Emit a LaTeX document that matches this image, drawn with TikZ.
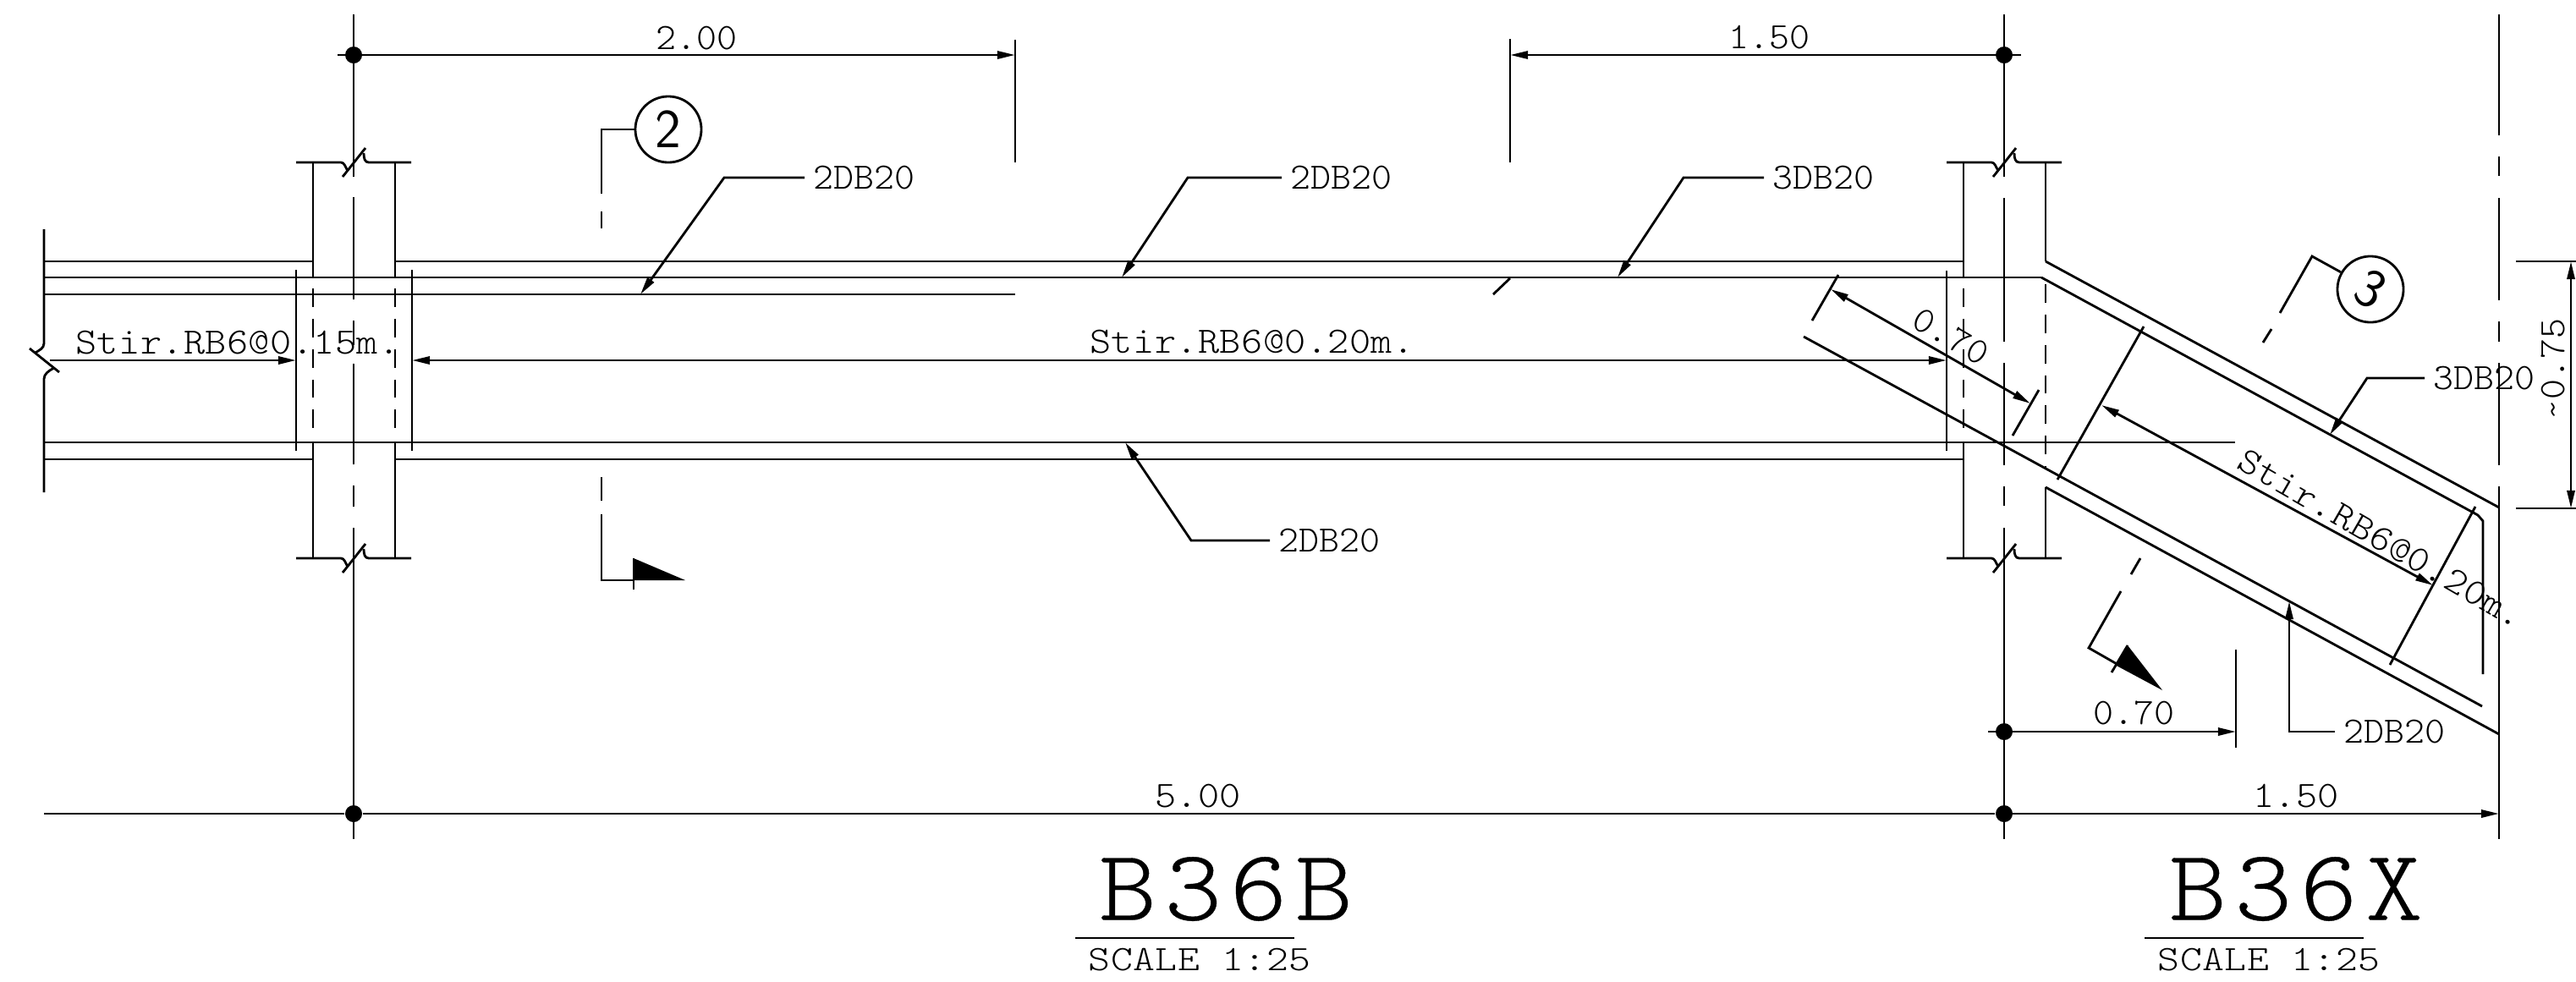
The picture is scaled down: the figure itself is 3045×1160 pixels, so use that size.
\documentclass[tikz,border=0pt]{standalone}
\usepackage{fontspec}
\usetikzlibrary{arrows.meta}
\newfontfamily\cadfont{lmmonolt10-regular}[Extension=.otf, FakeStretch=1.09, LetterSpace=1]
\newfontfamily\barfont{lmmonolt10-regular}[Extension=.otf, FakeStretch=1.04]
\newfontfamily\scalefont{lmmonolt10-regular}[Extension=.otf, FakeStretch=1.17, LetterSpace=1]
\newfontfamily\titlefont{lmmonolt10-regular}[Extension=.otf, FakeStretch=1.08, LetterSpace=8, FakeBold=0.3]
\tikzset{
    part/.style={line width=0.8pt},
    hidden/.style={line width=0.8pt, dash pattern=on 6.2pt off 4pt},
    dimline/.style={line width=0.8pt, -{Triangle[length=6pt, width=2.6pt]}},
    dimboth/.style={line width=0.8pt, {Triangle[length=6pt, width=2.6pt]}-{Triangle[length=6pt, width=2.6pt]}},
    dot/.style={circle, fill=black, minimum size=0.2cm},
    secmark/.style={circle, draw, line width=0.8pt, minimum size=0.78cm, font=\fontsize{18.5}{18.5}\sffamily},
    barlabel/.style={font=\fontsize{12.5}{12.5}\barfont},
    scalelabel/.style={font=\fontsize{12}{12}\scalefont}
}
\begin{document}
\begin{tikzpicture}[x=0.01cm, y=-0.01cm, every node/.style={inner sep=0pt, font=\fontsize{12.5}{12.5}\cadfont}]
    \useasboundingbox (0,0) rectangle (3045,1160);

    % Beam, straight part.
    \foreach \y in {309,543} {
        \draw[part] (52,\y) -- (370,\y);
        \draw[part] (467,\y) -- (2321,\y);
    }
    \draw[part] (52,328) -- (2413,328);
    \draw[part] (52,348) -- (1200,348);
    \draw[part] (52,523) -- (2642,523);
    \draw[part] (1765,348) -- (1785,329);

    % Beam, sloped part.
    \draw[part] (2418,309) -- (2954,600);
    \draw[part] (2413,328) -- (2929,609) -- (2935,616) -- (2935,797);
    \draw[part] (2132,398) -- (2934,835);
    \draw[part] (2418,576) -- (2954,868);

    % Beam end with its break.
    \draw[part] (52,271) -- (52,406) .. controls (52,412) and (46,414) .. (42,417);
    \draw[part] (35,412) -- (70,440);
    \draw[part] (64,435) .. controls (58,438) and (52,442) .. (52,448) -- (52,582);

    % Columns.
    \foreach \cx/\l/\r in {418/370/467, 2369/2321/2418} {
        \draw[part] (\l,192) -- (\l,328);
        \draw[hidden] (\l,341) -- (\l,514);
        \draw[part] (\l,523) -- (\l,660);
        \foreach \y in {192,660} {
            \draw[part] (\cx-68,\y) -- (\cx-15,\y) .. controls (\cx-11,\y) and (\cx-10,\y+5) .. (\cx-7,\y+10);
            \draw[part] (\cx-13,\y+17) -- (\cx+14,\y-17);
            \draw[part] (\cx+12,\y-11) .. controls (\cx+12,\y-5) and (\cx+13,\y) .. (\cx+18,\y) -- (\cx+68,\y);
        }
    }
    \draw[part] (467,192) -- (467,328);
    \draw[hidden] (467,341) -- (467,514);
    \draw[part] (467,523) -- (467,660);
    \draw[part] (2418,192) -- (2418,309);
    \draw[hidden] (2418,336) -- (2418,555);
    \draw[part] (2418,576) -- (2418,660);

    % Grid lines.
    \foreach \a/\b in {17/209, 233/354, 379/408, 430/549, 574/599, 624/992}
        \draw[part] (418,\a) -- (418,\b);
    \foreach \a/\b in {17/209, 234/404, 429/550, 575/598, 624/992}
        \draw[part] (2369,\a) -- (2369,\b);
    \foreach \a/\b in {17/160, 185/208, 234/355, 380/404, 429/550, 575/992}
        \draw[part] (2954,\a) -- (2954,\b);

    % Grid dots.
    \node[dot] (A-top) at (418,65) {};
    \node[dot] (A-low) at (418,962) {};
    \node[dot] (B-top) at (2369,65) {};
    \node[dot] (B-mid) at (2369,865) {};
    \node[dot] (B-low) at (2369,962) {};

    % Top dimensions.
    \coordinate (T-200) at (1200,65);
    \coordinate (T-150) at (1785,65);
    \draw[part] (1200,47) -- (1200,192);
    \draw[part] (1785,46) -- (1785,192);
    \draw[dimline] ([xshift=-0.19cm]A-top.center) -- (T-200);
    \draw[dimline] ([xshift=0.2cm]B-top.center) -- (T-150);
    \node[barlabel] (D-200) at (823,45) {2.00};
    \node[barlabel] (D-150) at (2091,44) {1.50};

    % Bottom dimensions.
    \coordinate (L-left) at (52,962);
    \coordinate (L-right) at (2954,962);
    \coordinate (M-right) at (2643,865);
    \draw[part] (L-left) -- (A-low) -- (B-low);
    \draw[dimline] (B-low.center) -- (L-right);
    \draw[dimline] ([xshift=-0.19cm]B-mid.center) -- (M-right);
    \draw[part] (2643,768) -- (2643,884);
    \node (D-500) at (1416,941) {5.00};
    \node (D-150b) at (2714,941) {1.50};
    \node[barlabel] (D-070) at (2522,843) {0.70};

    % Height of the sloped part.
    \coordinate (H-top) at (3039,309);
    \coordinate (H-low) at (3039,601);
    \draw[part] (2974,309) -- (3045,309);
    \draw[part] (2974,601) -- (3045,601);
    \draw[dimboth] (H-top) -- (H-low);
    \node[rotate=90, barlabel] (D-075) at (3018,436) {\textasciitilde0.75};

    % Stirrup zones.
    \coordinate (S-a) at (350,426);
    \coordinate (S-b) at (487,426);
    \coordinate (S-c) at (2301,426);
    \draw[part] (350,319) -- (350,533);
    \draw[part] (487,319) -- (487,533);
    \draw[part] (2301,320) -- (2301,533);
    \draw[dimline] (59,426) -- (S-a);
    \draw[dimboth] (S-b) -- (S-c);
    \node (Z-015) at (281,405) {Stir.RB6@0.15m.};
    \node (Z-020) at (1480,404) {Stir.RB6@0.20m.};

    % Stirrup zone on the slope.
    \coordinate (S-d) at (2484,479);
    \coordinate (S-e) at (2876,692);
    \draw[part] (2534,386) -- (2432,567);
    \draw[part] (2926,599) -- (2825,786);
    \draw[dimboth] (S-d) -- (S-e);
    \node[rotate=-30] (Z-020b) at (2815,637) {Stir.RB6@0.20m.};

    % Slope length.
    \coordinate (C-a) at (2164,342);
    \coordinate (C-b) at (2400,477);
    \draw[part] (2173,325) -- (2142,379);
    \draw[part] (2410,461) -- (2379,515);
    \draw[dimboth] (C-a) -- (C-b);
    \node[rotate=-30, barlabel] (D-070b) at (2306,398) {0.70};

    % Bar labels.
    \foreach \name/\bar/\lx/\ly/\bx/\by/\tx/\ty in {
        P/2DB20/951/210/856/210/757/348,
        Q/2DB20/1515/210/1404/210/1326/328,
        R/3DB20/2085/210/1990/210/1912/328,
        S/2DB20/1501/639/1408/639/1330/523,
        U/3DB20/2866/447/2798/447/2754/514,
        V/2DB20/2760/865/2706/865/2706/711} {
        \node[anchor=west, inner xsep=0.1cm, barlabel] (\name) at (\lx,\ly) {\bar};
        \coordinate (\name-tip) at (\tx,\ty);
        \draw[dimline] (\name.west) -- (\bx,\by) -- (\name-tip);
    }

    % Section marks.
    \node[secmark] (sec-2) at (790,153) {2};
    \draw[part] (sec-2.west) -- (711,153) -- (711,229);
    \draw[part] (711,250) -- (711,270);
    \draw[part] (711,564) -- (711,592);
    \draw[part] (711,608) -- (711,686) -- (749,686);
    \draw[part] (749,660) -- (749,697);
    \fill (749,660) -- (749,686) -- (810,686) -- cycle;

    \node[secmark, rotate=-30] (sec-3) at (2802,342) {3};
    \draw[part] (sec-3.180) -- (2733,303) -- (2695,370);
    \draw[part] (2685,389) -- (2675,405);
    \draw[part] (2530,660) -- (2519,679);
    \draw[part] (2507,699) -- (2469,766) -- (2504,786);
    \draw[part] (2515,763) -- (2496,795);
    \fill (2515,763) -- (2500,786) -- (2556,816) -- cycle;

    % Titles.
    \node[font=\fontsize{34}{34}\titlefont] (title-b) at (1449,1051) {B36B};
    \node[font=\fontsize{34}{34}\titlefont] (title-x) at (2714,1051) {B36X};
    \draw[part] (1271,1109) -- (1530,1109);
    \draw[part] (2535,1109) -- (2794,1109);
    \node[scalelabel] (scale-b) at (1418,1135) {SCALE 1:25};
    \node[scalelabel] (scale-x) at (2682,1135) {SCALE 1:25};
\end{tikzpicture}
\end{document}
